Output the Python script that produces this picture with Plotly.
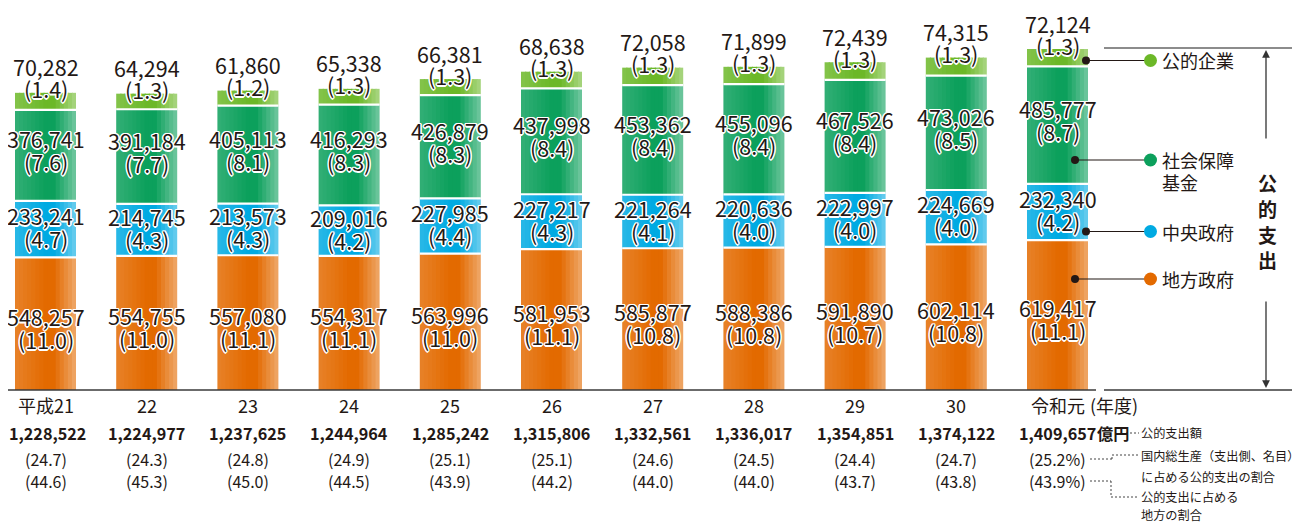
import plotly.graph_objects as go

# ---------------- data ----------------
years = ["平成21", "22", "23", "24", "25", "26", "27", "28", "29", "30", "令和元"]

local_gov = [548257, 554755, 557080, 554317, 563996, 581953, 585877, 588386, 591890, 602114, 619417]
local_gov_pct = [11.0, 11.0, 11.1, 11.1, 11.0, 11.1, 10.8, 10.8, 10.7, 10.8, 11.1]

central_gov = [233241, 214745, 213573, 209016, 227985, 227217, 221264, 220636, 222997, 224669, 232340]
central_gov_pct = [4.7, 4.3, 4.3, 4.2, 4.4, 4.3, 4.1, 4.0, 4.0, 4.0, 4.2]

social_fund = [376741, 391184, 405113, 416293, 426879, 437998, 453362, 455096, 467526, 473026, 485777]
social_fund_pct = [7.6, 7.7, 8.1, 8.3, 8.3, 8.4, 8.4, 8.4, 8.4, 8.5, 8.7]

public_corp = [70282, 64294, 61860, 65338, 66381, 68638, 72058, 71899, 72439, 74315, 72124]
public_corp_pct = [1.4, 1.3, 1.2, 1.3, 1.3, 1.3, 1.3, 1.3, 1.3, 1.3, 1.3]

totals = [1228522, 1224977, 1237625, 1244964, 1285242, 1315806, 1332561, 1336017, 1354851, 1374122, 1409657]
gdp_share = [24.7, 24.3, 24.8, 24.9, 25.1, 25.1, 24.6, 24.5, 24.4, 24.7, 25.2]
local_share = [44.6, 45.3, 45.0, 44.5, 43.9, 44.2, 44.0, 44.0, 43.7, 43.8, 43.9]

# ---------------- layout geometry (reference pixel coords) ----------------
REF_W, REF_H = 1301, 524
OFF = 8                 # default page body margin
FW, FH = REF_W - OFF, REF_H - OFF
BASE_PX = 390           # baseline pixel row
XC0, DX = 45.5, 101.2   # first bar centre, category spacing (px)
S = 4133.9              # value units per pixel
BAR_W = 61 / DX
FONT = "Noto Sans CJK JP"
TXT = "#231815"
SHADOW = ("1.5px 0 0 #fff, -1.5px 0 0 #fff, 0 1.5px 0 #fff, 0 -1.5px 0 #fff, "
          "1px 1px 0 #fff, -1px -1px 0 #fff, 1px -1px 0 #fff, -1px 1px 0 #fff")


def xd(px):
    return (px - XC0) / DX


def yd(py):
    return (BASE_PX - py) * S


def pxp(px):
    return (px - OFF) / FW


def pyp(py):
    return (BASE_PX - py) / (BASE_PX - OFF)


def lighten(rgb, f):
    return "rgb(%d,%d,%d)" % tuple(int(round(c + (255 - c) * f)) for c in rgb)


def grad(t):
    pts = [(0.0, 0.16), (0.5, 0.0), (0.64, 0.0), (1.0, 0.42)]
    for (t0, f0), (t1, f1) in zip(pts[:-1], pts[1:]):
        if t0 <= t <= t1:
            return f0 + (f1 - f0) * (t - t0) / (t1 - t0)
    return 0


def pann(text, px, py, size, xanchor="center", bold=False):
    return dict(x=pxp(px), y=pyp(py), xref="paper", yref="paper",
                xanchor=xanchor, yanchor="middle", showarrow=False,
                text=f"<b>{text}</b>" if bold else text,
                font=dict(family=FONT, size=size, color=TXT))


fig = go.Figure()
n = len(years)
xs = list(range(n))

series = [
    (local_gov, local_gov_pct, (227, 106, 0), 4),
    (central_gov, central_gov_pct, (0, 170, 226), -2),
    (social_fund, social_fund_pct, (12, 160, 92), -5),
    (public_corp, public_corp_pct, (108, 184, 40), None),
]

annotations = []
shapes = []
NSTRIP = 15
cum = [0] * n
for si, (vals, pcts, rgb, dy) in enumerate(series):
    for k in range(NSTRIP):
        t = (k + 0.5) / NSTRIP
        w = BAR_W / NSTRIP + (0.012 if k < NSTRIP - 1 else 0)
        fig.add_bar(
            x=xs, y=vals, base=cum,
            width=w, offset=-BAR_W / 2 + k * BAR_W / NSTRIP,
            marker=dict(color=lighten(rgb, grad(t)), line=dict(width=0)),
            hoverinfo="skip", showlegend=False,
        )
    for i in range(n):
        if dy is None:
            y_val, sh_v, sh_p = cum[i] + vals[i], 26, 4
        else:
            y_val = cum[i] + vals[i] / 2
            sh_v, sh_p = -dy + 11.5, -dy - 11.5
        for txt, sh in ((f"{vals[i]:,}", sh_v), (f"({pcts[i]:.1f})", sh_p)):
            annotations.append(dict(x=i, y=y_val, xref="x", yref="y", yshift=sh,
                                    xanchor="center", yanchor="middle",
                                    text=txt, showarrow=False,
                                    font=dict(family=FONT, size=21.5, color=TXT, shadow=SHADOW)))
    cum = [c + v for c, v in zip(cum, vals)]
    if si < len(series) - 1:
        for i in range(n):
            shapes.append(dict(type="line", xref="x", yref="y",
                               x0=i - BAR_W / 2, x1=i + BAR_W / 2, y0=cum[i], y1=cum[i],
                               line=dict(color="white", width=2.2), layer="above"))

# ---------------- bottom texts ----------------
for i in range(n):
    xc = XC0 + i * DX
    pct_suffix = "%" if i == n - 1 else ""
    annotations.append(pann(years[i], xc, 405, 18))
    annotations.append(pann(f"{totals[i]:,}", xc + (2 if i == 0 else 0), 433, 16.2, bold=True))
    annotations.append(pann(f"({gdp_share[i]:.1f}{pct_suffix})", xc, 459, 16))
    annotations.append(pann(f"({local_share[i]:.1f}{pct_suffix})", xc, 481, 16))

annotations.append(pann("(年度)", 1088, 405, 18, xanchor="left"))
annotations.append(pann("億円", 1095, 433, 16.2, xanchor="left", bold=True))

notes = [("公的支出額", 433), ("国内総生産（支出側、名目）", 456), ("に占める公的支出の割合", 477),
         ("公的支出に占める", 497), ("地方の割合", 515.5)]
for txt, py in notes:
    annotations.append(pann(txt, 1139, py, 12.2, xanchor="left"))

dash_segs = [((1126, 433), (1139, 433)),
             ((1090, 459), (1112, 459)), ((1112, 459), (1112, 455)), ((1112, 455), (1139, 455)),
             ((1090, 481), (1111, 481)), ((1111, 481), (1111, 497)), ((1111, 497), (1139, 497))]
for (x0, y0), (x1, y1) in dash_segs:
    shapes.append(dict(type="line", xref="paper", yref="paper",
                       x0=pxp(x0), x1=pxp(x1), y0=pyp(y0), y1=pyp(y1),
                       line=dict(color="#444", width=1, dash="2px,2px")))

# baseline and top reference line
for x0, x1, py, col in [(6, 1096, 390, "#3a3a3a"), (1104, 1292, 390, "#3a3a3a"),
                        (1104, 1292, 48, "#666")]:
    shapes.append(dict(type="line", xref="paper", yref="paper",
                       x0=pxp(x0), x1=pxp(x1), y0=pyp(py), y1=pyp(py),
                       line=dict(color=col, width=1.5)))

# arrows
annotations.append(dict(x=pxp(1266), y=pyp(50), xref="paper", yref="paper", text="",
                        showarrow=True, ax=0, ay=90, arrowhead=2, arrowsize=1.2,
                        arrowwidth=1.3, arrowcolor="#333"))
annotations.append(dict(x=pxp(1266), y=pyp(388), xref="paper", yref="paper", text="",
                        showarrow=True, ax=0, ay=-88, arrowhead=2, arrowsize=1.2,
                        arrowwidth=1.3, arrowcolor="#333"))
for ch, py in zip("公的支出", [182, 208, 234, 260]):
    annotations.append(pann(ch, 1267, py, 19, bold=True))

# legend with leader lines
leg = [("公的企業", 60.5, 1086, series[3][2]),
       ("社会保障", 160, 1075, series[2][2]),
       ("中央政府", 231.5, 1086, series[1][2]),
       ("地方政府", 279, 1075, series[0][2])]
for name, py, bx, rgb in leg:
    fig.add_scatter(x=[xd(bx), xd(1150.5)], y=[yd(py), yd(py)], mode="lines",
                    line=dict(color="#231815", width=1.2), hoverinfo="skip", showlegend=False)
    fig.add_scatter(x=[xd(bx)], y=[yd(py)], mode="markers",
                    marker=dict(color="#231815", size=8), hoverinfo="skip", showlegend=False)
    fig.add_scatter(x=[xd(1150.5)], y=[yd(py)], mode="markers",
                    marker=dict(color="rgb(%d,%d,%d)" % rgb, size=13), hoverinfo="skip",
                    showlegend=False)
    annotations.append(pann(name, 1160, py, 18, xanchor="left"))
annotations.append(pann("基金", 1160, 182, 18, xanchor="left"))

fig.update_layout(
    width=FW, height=FH,
    margin=dict(l=0, r=0, t=0, b=FH - (BASE_PX - OFF), pad=0),
    barmode="overlay",
    plot_bgcolor="white", paper_bgcolor="white",
    xaxis=dict(visible=False, range=[xd(OFF), xd(REF_W)], fixedrange=True),
    yaxis=dict(visible=False, range=[0, (BASE_PX - OFF) * S], fixedrange=True),
    annotations=annotations, shapes=shapes,
    showlegend=False,
    font=dict(family=FONT, color=TXT),
)

fig.write_html("out.html")
